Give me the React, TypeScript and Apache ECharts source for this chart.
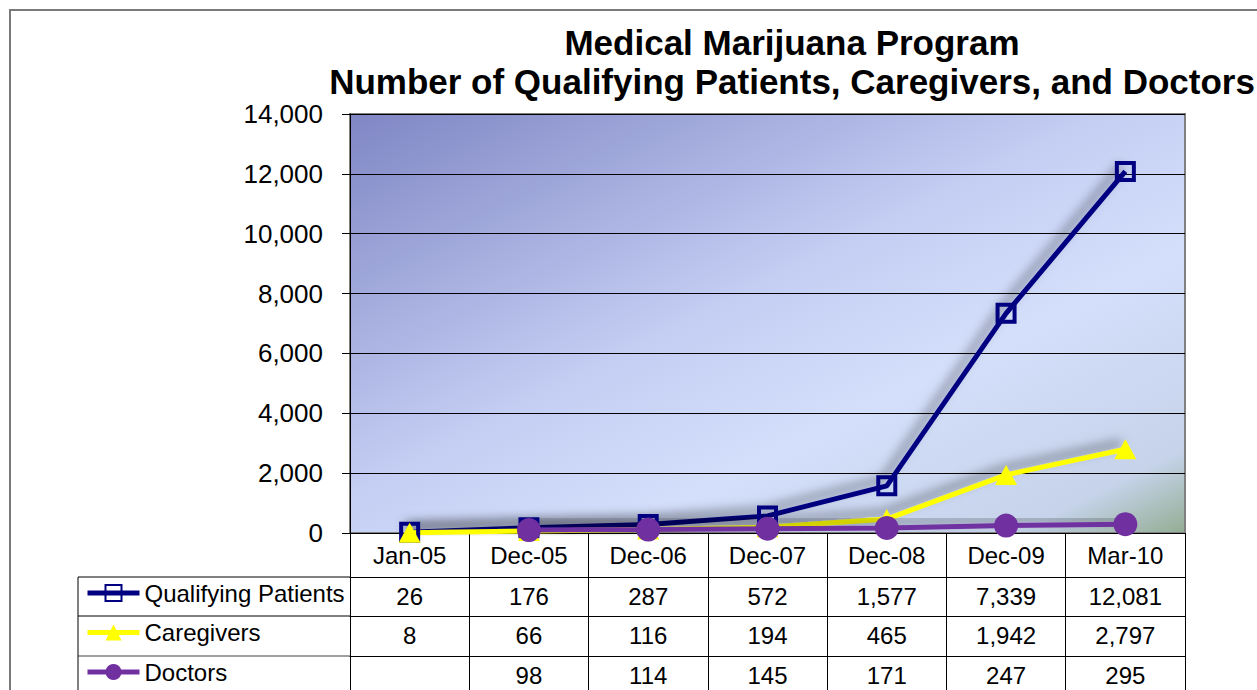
import React, { useEffect, useRef } from "react";
import * as echarts from "echarts";

const categories = ["Jan-05", "Dec-05", "Dec-06", "Dec-07", "Dec-08", "Dec-09", "Mar-10"];
const patients: (number | null)[] = [26, 176, 287, 572, 1577, 7339, 12081];
const caregivers: (number | null)[] = [8, 66, 116, 194, 465, 1942, 2797];
const doctors: (number | null)[] = [null, 98, 114, 145, 171, 247, 295];
const seriesNames = ["Qualifying Patients", "Caregivers", "Doctors"];
const titleLines = ["Medical Marijuana Program", "Number of Qualifying Patients, Caregivers, and Doctors"];

const FONT = "'Liberation Sans', Arial, sans-serif";
const fmt = (v: number | null) => (v == null ? "" : v.toLocaleString("en-US"));

export default function App() {
  const ref = useRef<HTMLDivElement>(null);
  useEffect(() => {
    if (!ref.current) return;
    const chart = echarts.init(ref.current, null, { renderer: "svg" });
    const shadow = {
      shadowColor: "rgba(0,0,0,0.5)",
      shadowBlur: 11,
      shadowOffsetX: -4,
      shadowOffsetY: -6,
    };
    const tableAxis = (offset: number, tick: number, margin: number, vals: (number | null)[] | null) => ({
      type: "category",
      data: categories,
      gridIndex: 0,
      position: "bottom",
      offset,
      boundaryGap: true,
      axisLine: { show: true, lineStyle: { color: "#000", width: 1 } },
      axisTick: { show: true, length: tick, interval: 0, lineStyle: { color: "#000", width: 1 } },
      axisLabel: {
        interval: 0,
        fontSize: 24,
        color: "#000",
        fontFamily: FONT,
        margin,
        formatter: vals ? (_v: string, i: number) => fmt(vals[i]) : undefined,
      },
      splitLine: { show: false },
    });
    chart.setOption({
      animation: false,
      title: {
        text: titleLines.join("\n"),
        left: 792,
        top: 23,
        padding: 0,
        textAlign: "center",
        textStyle: { fontSize: 35, fontWeight: "bold", color: "#000", fontFamily: FONT, lineHeight: 39 },
      },
      legend: {
        orient: "vertical",
        left: 85,
        top: 581,
        padding: 0,
        itemWidth: 52,
        itemHeight: 20,
        itemGap: 15.5,
        lineStyle: { width: 5 },
        textStyle: { fontSize: 24, color: "#000", fontFamily: FONT, lineHeight: 24 },
        data: seriesNames,
      },
      grid: {
        left: 350,
        right: 72,
        top: 114,
        bottom: 157,
        outerBoundsMode: "none",
        containLabel: false,
        show: true,
        borderColor: "#808080",
        borderWidth: 2,
        backgroundColor: new echarts.graphic.LinearGradient(0, 0, 1, 1, [
          { offset: 0, color: "#7F86C4" },
          { offset: 0.45, color: "#C4CEF3" },
          { offset: 0.66, color: "#D4DFFB" },
          { offset: 0.9, color: "#C6D3EA" },
          { offset: 1, color: "#93AD93" },
        ]),
      },
      xAxis: [
        tableAxis(0, 44, 10, null),
        tableAxis(44, 39, 7, patients),
        tableAxis(83, 40, 7, caregivers),
        tableAxis(123, 40, 7, doctors),
      ],
      yAxis: {
        type: "value",
        min: 0,
        max: 14000,
        interval: 2000,
        axisLine: { show: true, lineStyle: { color: "#000", width: 1 } },
        axisTick: { show: true, length: 8, lineStyle: { color: "#000" } },
        splitLine: { show: true, lineStyle: { color: "#000", width: 1 } },
        axisLabel: {
          fontSize: 26,
          color: "#000",
          fontFamily: FONT,
          margin: 27,
          formatter: (v: number) => v.toLocaleString("en-US"),
        },
      },
      graphic: [
        {
          type: "rect",
          shape: { x: 10, y: 10, width: 1400, height: 800 },
          style: { fill: "none", stroke: "#7a7a7a", lineWidth: 2 },
          silent: true,
        },
        { type: "line", shape: { x1: 78, y1: 577, x2: 350, y2: 577 }, style: { stroke: "#000", lineWidth: 1 } },
        { type: "line", shape: { x1: 78, y1: 616, x2: 350, y2: 616 }, style: { stroke: "#000", lineWidth: 1 } },
        { type: "line", shape: { x1: 78, y1: 656, x2: 350, y2: 656 }, style: { stroke: "#808080", lineWidth: 1.5 } },
        { type: "line", shape: { x1: 78, y1: 577, x2: 78, y2: 700 }, style: { stroke: "#000", lineWidth: 1 } },
      ],
      series: [
        {
          name: seriesNames[0],
          type: "line",
          data: patients,
          xAxisIndex: 0,
          symbol: "rect",
          symbolSize: 17,
          lineStyle: { color: "#000080", width: 5, ...shadow },
          itemStyle: { color: "rgba(0,0,0,0)", borderColor: "#000080", borderWidth: 4 },
        },
        {
          name: seriesNames[1],
          type: "line",
          data: caregivers,
          xAxisIndex: 0,
          symbol: "triangle",
          symbolSize: [22, 20],
          lineStyle: { color: "#FFFF00", width: 5, ...shadow },
          itemStyle: { color: "#FFFF00" },
        },
        {
          name: seriesNames[2],
          type: "line",
          data: doctors,
          xAxisIndex: 0,
          symbol: "circle",
          symbolSize: 24,
          connectNulls: false,
          lineStyle: { color: "#7030A0", width: 5, ...shadow },
          itemStyle: { color: "#7030A0" },
        },
      ],
    });
    return () => chart.dispose();
  }, []);
  return (
    <div
      ref={ref}
      style={{ position: "fixed", left: 0, top: 0, width: 1257, height: 690, background: "#fff" }}
    />
  );
}
